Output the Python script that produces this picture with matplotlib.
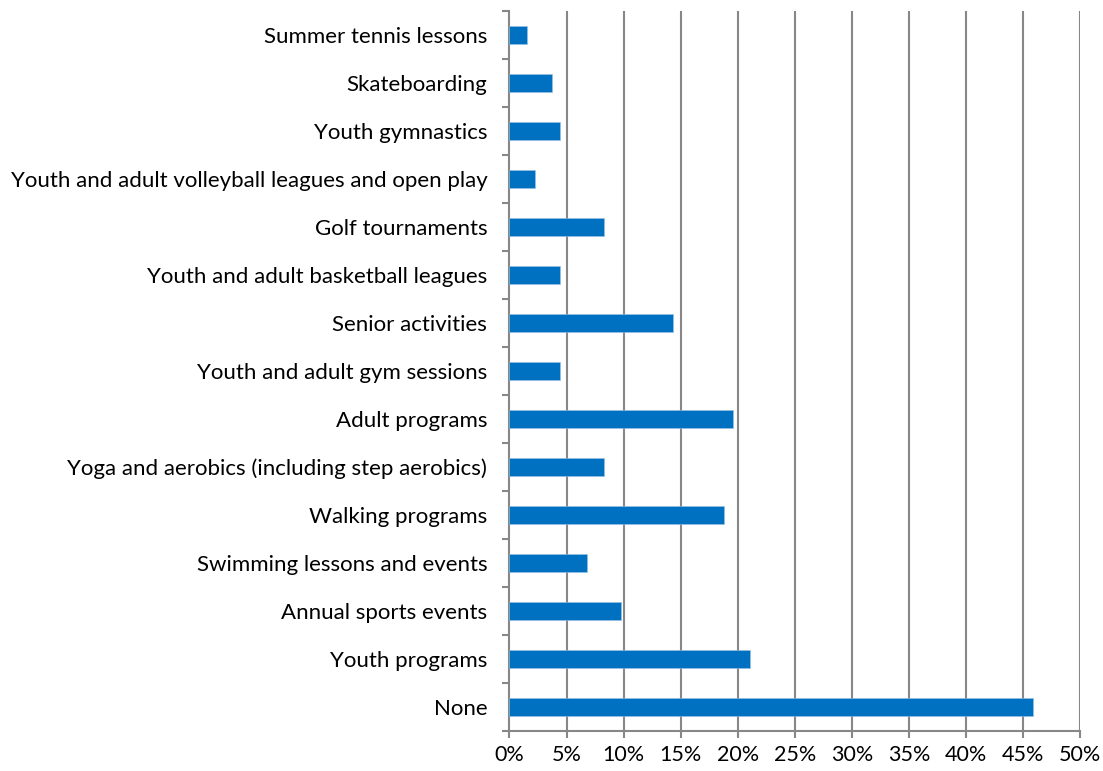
import matplotlib
matplotlib.use("Agg")
import matplotlib.pyplot as plt
from matplotlib.ticker import FixedLocator, PercentFormatter
import numpy as np

categories = [
    "None",
    "Youth programs",
    "Annual sports events",
    "Swimming lessons and events",
    "Walking programs",
    "Yoga and aerobics (including step aerobics)",
    "Adult programs",
    "Youth and adult gym sessions",
    "Senior activities",
    "Youth and adult basketball leagues",
    "Golf tournaments",
    "Youth and adult volleyball leagues and open play",
    "Youth gymnastics",
    "Skateboarding",
    "Summer tennis lessons",
]
values = [45.9, 21.1, 9.75, 6.8, 18.8, 8.3, 19.6, 4.45, 14.3, 4.45, 8.3, 2.2, 4.45, 3.75, 1.5]
x_ticks = [0, 5, 10, 15, 20, 25, 30, 35, 40, 45, 50]

plt.rcParams['font.family'] = ['Lato', 'DejaVu Sans']

fig = plt.figure(figsize=(11.03, 7.71), dpi=100)
ax = fig.add_axes([0.4619, 0.0519, 0.9791 - 0.4619, 0.9857 - 0.0519])

y = np.arange(len(categories))
ax.barh(y, values, height=0.39, color='#0070C0', edgecolor='#9DC3E6', linewidth=0.4, zorder=3)

ax.set_xlim(0, 50)
ax.set_ylim(-0.5, len(categories) - 0.5)

gc = '#878787'
ax.xaxis.set_major_locator(FixedLocator(x_ticks))
ax.xaxis.set_major_formatter(PercentFormatter(decimals=0))
for t in x_ticks[1:]:
    ax.axvline(t, color=gc, linewidth=1.5, zorder=1)

ax.set_yticks(y)
ax.set_yticklabels(categories)
ax.yaxis.set_minor_locator(FixedLocator(np.arange(-0.5, len(categories), 1.0)))
ax.tick_params(axis='y', which='major', length=0, pad=16, labelsize=16, labelcolor='#000000')
ax.tick_params(axis='y', which='minor', length=5, width=1.5, color=gc, direction='out')
ax.tick_params(axis='x', which='major', length=5, width=1.5, color=gc, direction='out', labelsize=15.5, pad=5)

for s in ['top', 'right']:
    ax.spines[s].set_visible(False)
for s in ['left', 'bottom']:
    ax.spines[s].set_color(gc)
    ax.spines[s].set_linewidth(1.5)

fig.savefig('out.png', dpi=100)
